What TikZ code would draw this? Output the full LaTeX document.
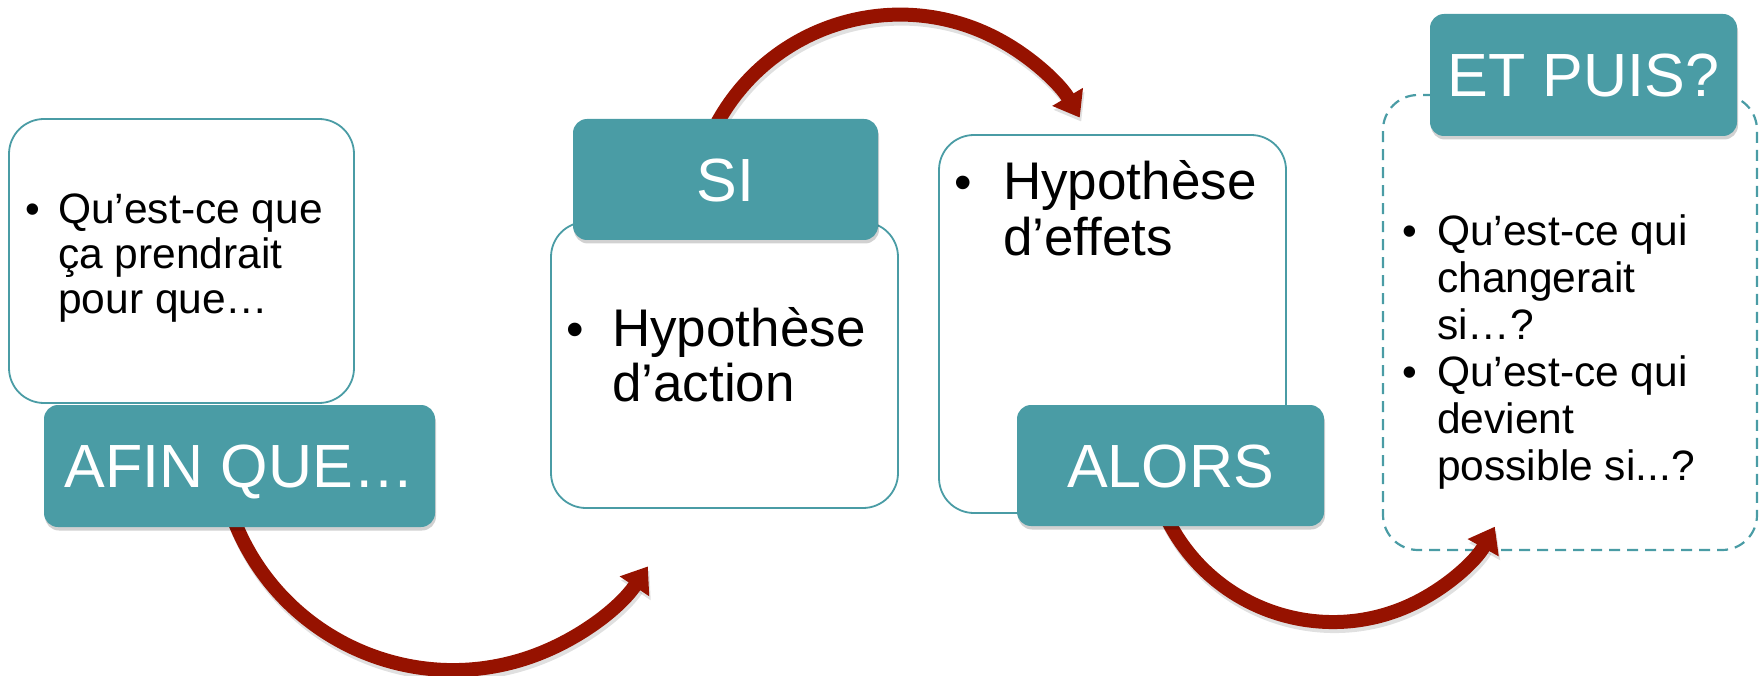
\documentclass[tikz,border=0pt]{standalone}
\usepackage{fontspec}
\setmainfont{Liberation Sans}
\usetikzlibrary{arrows.meta,shadows}
\definecolor{teal1}{RGB}{74,156,165}
\definecolor{arrowred}{RGB}{150,18,0}
\tikzset{
  whitebox/.style={draw=teal1, line width=1.8pt, fill=white, rounded corners=35pt, inner sep=0pt},
  tealbox/.style={fill=teal1, rounded corners=14pt, inner sep=0pt, text=white,
     font=\fontsize{61}{61}\selectfont, text height=43.7pt, text depth=0pt,
     drop shadow={shadow xshift=1pt, shadow yshift=-3.5pt, opacity=0.18, fill=black}},
  dashbox/.style={draw=teal1, line width=2.2pt, dash pattern=on 11pt off 7pt, rounded corners=35pt, inner sep=0pt},
  arrowshade/.style={draw=black, opacity=0.12, line width=14pt, -{Triangle[length=24pt,width=34pt]}},
  bigarrow/.style={draw=arrowred, line width=14pt, -{Triangle[length=24pt,width=34pt]}},
  smalltxt/.style={anchor=base west, inner sep=0pt, font=\fontsize{42.5}{42.5}\selectfont},
  bigtxt/.style={anchor=base west, inner sep=0pt, font=\fontsize{53}{53}\selectfont},
  smallbul/.style={anchor=base, inner sep=0pt, font=\fontsize{42}{42}\selectfont},
  bigbul/.style={anchor=base, inner sep=0pt, font=\fontsize{50}{50}\selectfont}
}
\begin{document}
\begin{tikzpicture}[x=1pt,y=-1pt]
\useasboundingbox (0,0) rectangle (1761,676);
% containers
\node[dashbox, minimum width=374pt, minimum height=455pt] (D) at (1570,322.5) {};
\node[whitebox, minimum width=345pt, minimum height=284pt] (W1) at (181.5,261) {};
\node[whitebox, minimum width=347pt, minimum height=286pt] (W2) at (724.5,365) {};
\node[whitebox, minimum width=347pt, minimum height=378pt] (W3) at (1112.5,324) {};
% arrows
\coordinate (s1) at (232.2,515.4);
\coordinate (s2) at (716,125.2);
\coordinate (s3) at (1165.3,515.2);
\draw[arrowshade, transform canvas={shift={(1.5pt,-4pt)}}] (s1) arc[start angle=160, end angle=34, radius=235];
\draw[arrowshade, transform canvas={shift={(1.5pt,-4pt)}}] (s2) arc[start angle=208, end angle=329.6, radius=208.4];
\draw[arrowshade, transform canvas={shift={(1.5pt,-4pt)}}] (s3) arc[start angle=155, end angle=29, radius=185];
\draw[bigarrow] (s1) arc[start angle=160, end angle=34, radius=235];
\draw[bigarrow] (s2) arc[start angle=208, end angle=329.6, radius=208.4];
\draw[bigarrow] (s3) arc[start angle=155, end angle=29, radius=185];
% teal boxes
\node[tealbox, minimum width=391pt, minimum height=122pt] (T1) at (239.5,466) {AFIN QUE…};
\node[tealbox, minimum width=305pt, minimum height=121pt] (T2) at (725.5,179.5) {SI};
\node[tealbox, minimum width=307pt, minimum height=121pt] (T3) at (1170.5,465.5) {ALORS};
\node[tealbox, minimum width=307pt, minimum height=122pt] (T4) at (1583.5,75) {ET PUIS?};
% text box 1
\node[smallbul] (b1) at (33,224) {•};
\node[smalltxt] (l11) at (58,224) {Qu’est-ce que};
\node[smalltxt] (l12) at (58,268.5) {ça prendrait};
\node[smalltxt] (l13) at (58,313) {pour que…};
% text box 2
\node[bigbul] (b2) at (575,346) {•};
\node[bigtxt] (l21) at (612,346) {Hypothèse};
\node[bigtxt] (l22) at (612,401) {d’action};
% text box 3
\node[bigbul] (b3) at (963,200) {•};
\node[bigtxt] (l31) at (1003,200) {Hypothèse};
\node[bigtxt] (l32) at (1003,256) {d’effets};
% text box 4
\node[smallbul] (b41) at (1410,246) {•};
\node[smalltxt] (l41) at (1437,246) {Qu’est-ce qui};
\node[smalltxt] (l42) at (1437,293) {changerait};
\node[smalltxt] (l43) at (1437,339) {si…?};
\node[smallbul] (b42) at (1410,386) {•};
\node[smalltxt] (l44) at (1437,386) {Qu’est-ce qui};
\node[smalltxt] (l45) at (1437,433) {devient};
\node[smalltxt] (l46) at (1437,480) {possible si...?};
\end{tikzpicture}
\end{document}
